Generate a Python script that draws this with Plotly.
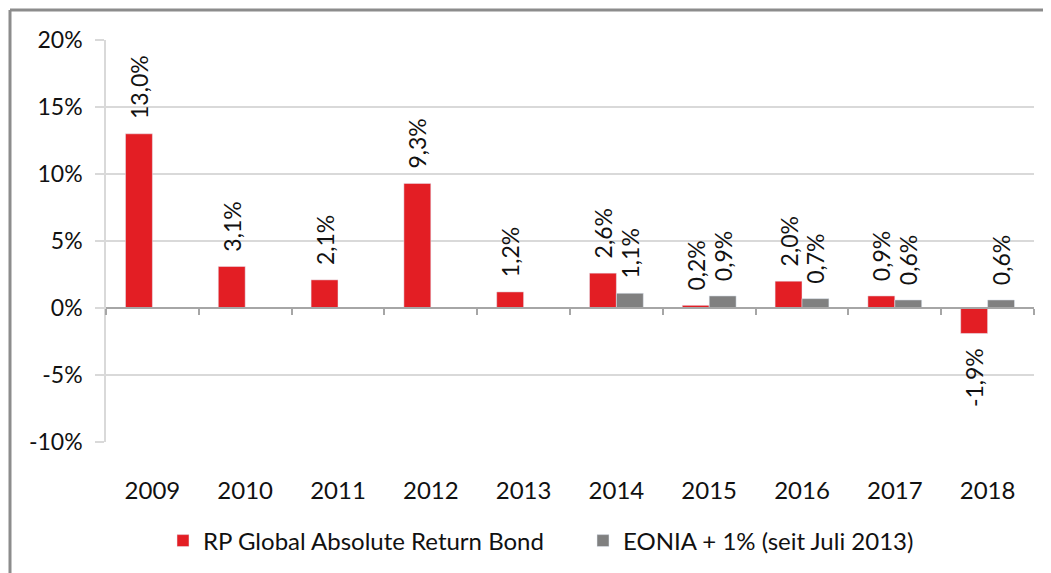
import plotly.graph_objects as go

years = ["2009", "2010", "2011", "2012", "2013", "2014", "2015", "2016", "2017", "2018"]
rp_values = [13.0, 3.1, 2.1, 9.3, 1.2, 2.6, 0.2, 2.0, 0.9, -1.9]
eonia_values = [None, None, None, None, None, 1.1, 0.9, 0.7, 0.6, 0.6]
rp_name = "RP Global Absolute Return Bond"
eonia_name = "EONIA + 1% (seit Juli 2013)"
y_ticks = [-10, -5, 0, 5, 10, 15, 20]
y_ticktext = ["-10%", "-5%", "0%", "5%", "10%", "15%", "20%"]

PAD = "\u00a0\u00a0"

def fmt(v):
    if v is None:
        return ""
    s = f"{v:.1f}%".replace(".", ",")
    return (s + PAD) if v < 0 else (PAD + s)

FONT = "Lato, Carlito, 'Open Sans', sans-serif"
FS = 23
RED = "#e31e24"
GRAY = "#808080"
TXT = "#111111"

# plot-area geometry in figure pixels (page body has an 8px offset)
L, T, R, B = 98, 32, 25, 139
PW, PH = 1051 - L - R, 573 - T - B

fig = go.Figure()
fig.add_trace(go.Bar(
    x=years, y=rp_values, name=rp_name, marker_color=RED,
    text=[fmt(v) for v in rp_values], textposition="outside", textangle=-90,
    constraintext="none",
    textfont=dict(size=FS, color=TXT, family=FONT), cliponaxis=False,
))
fig.add_trace(go.Bar(
    x=years, y=eonia_values, name=eonia_name, marker_color=GRAY,
    text=[fmt(v) for v in eonia_values], textposition="outside", textangle=-90,
    constraintext="none",
    textfont=dict(size=FS, color=TXT, family=FONT), cliponaxis=False,
))
# invisible trace to carry the zero-line axis with category boundary ticks
fig.add_trace(go.Scatter(x=[-0.5, 9.5], y=[0, 0], xaxis="x2", mode="lines",
                         line=dict(width=0), showlegend=False, hoverinfo="skip"))

fig.update_layout(
    width=1051, height=573,
    paper_bgcolor="white", plot_bgcolor="white",
    margin=dict(l=L, r=R, t=T, b=B, autoexpand=False),
    barmode="group", bargap=0.42, bargroupgap=0,
    font=dict(family=FONT, size=FS, color=TXT),
    showlegend=True,
    legend=dict(orientation="h", x=(155 - L) / PW, xanchor="left",
                y=-99 / PH, yanchor="middle",
                font=dict(size=24, family=FONT, color=TXT), itemwidth=30,
                entrywidth=375, entrywidthmode="pixels"),
    xaxis=dict(type="category", showgrid=False, showline=False, ticks="",
               ticklabelstandoff=32, tickfont=dict(size=24)),
    xaxis2=dict(overlaying="x", anchor="free", position=1/3, range=[-0.5, 9.5],
                showgrid=False, showline=True, linecolor="#a6a6a6", linewidth=1.5,
                ticks="outside", ticklen=6, tickcolor="#a6a6a6", tickwidth=1.5,
                tickvals=[i - 0.5 for i in range(11)], showticklabels=False, zeroline=False),
    yaxis=dict(range=[-10, 20], tickvals=y_ticks, ticktext=y_ticktext,
               showgrid=True, gridcolor="#d9d9d9", gridwidth=1.5,
               showline=True, linecolor="#d9d9d9", linewidth=1.5,
               ticks="outside", ticklen=9, tickcolor="#d9d9d9", tickwidth=1.5,
               ticklabelstandoff=8,
               zeroline=False, tickfont=dict(size=FS)),
)

# outer chart-frame border (left and top edges)
bx = (2 - L) / PW
by = (T + PH - 2) / PH
fig.add_shape(type="line", xref="paper", yref="paper",
              x0=bx, x1=bx, y0=by, y1=-0.5,
              line=dict(color="#8c8c8c", width=3))
fig.add_shape(type="line", xref="paper", yref="paper",
              x0=bx, x1=1.1, y0=by, y1=by,
              line=dict(color="#8c8c8c", width=3))

fig.write_html("out.html")
